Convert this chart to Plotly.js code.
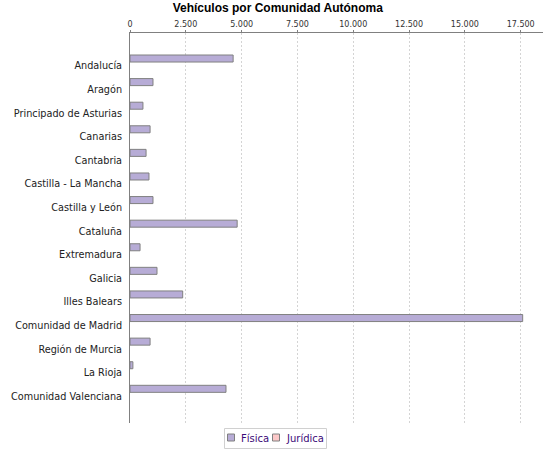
<!DOCTYPE html>
<html>
<head>
<meta charset="utf-8">
<script src="https://cdn.plot.ly/plotly-3.0.1.min.js"></script>
<style>html,body{margin:0;padding:0;background:#fff;}#chart{width:550px;height:450px;}</style>
</head>
<body>
<div id="chart"></div>
<script>
const categories = ["Andalucía","Aragón","Principado de Asturias","Canarias","Cantabria","Castilla - La Mancha","Castilla y León","Cataluña","Extremadura","Galicia","Illes Balears","Comunidad de Madrid","Región de Murcia","La Rioja","Comunidad Valenciana"];
const fisica = [4620, 1030, 580, 900, 720, 850, 1030, 4800, 450, 1210, 2360, 17590, 900, 130, 4300];
const juridica = [0, 0, 0, 0, 0, 0, 0, 0, 0, 0, 0, 0, 0, 0, 0];
const xTicks = [0, 2500, 5000, 7500, 10000, 12500, 15000, 17500];
const seriesNames = ["Física", "Jurídica"];
const seriesColors = ["#b7acd6", "#fcc8c8"];

const W = 550, H = 450;
const M = {l:130, r:7, t:33, b:27};
const PW = W - M.l - M.r, PH = H - M.t - M.b;
const px = x => (x - M.l) / PW;
const py = y => (H - M.b - y) / PH;

const traces = [fisica, juridica].map((vals, i) => ({
  type:'bar', orientation:'h', name:seriesNames[i], y:categories, x:vals,
  marker:{color:seriesColors[i], line:{color:'#808080', width: i === 0 ? 1 : 0}}, hoverinfo:'x+y'
}));

// custom legend (box, swatches, labels)
const shapes = [
  {type:'rect', xref:'paper', yref:'paper', x0:px(224.5), x1:px(326.5), y0:py(428.5), y1:py(448.5),
   line:{color:'#d0d0d0', width:1}, fillcolor:'#fff', layer:'above'}
];
const annotations = [];
const swatchX = [227.5, 272.5];
const textX = [238.5, 284];
seriesNames.forEach((n, i) => {
  shapes.push({type:'rect', xref:'paper', yref:'paper', x0:px(swatchX[i]), x1:px(swatchX[i]+7), y0:py(434), y1:py(441),
    line:{color:'#808080', width:1}, fillcolor:seriesColors[i], layer:'above'});
  annotations.push({xref:'paper', yref:'paper', x:px(textX[i]), y:py(438), xanchor:'left', yanchor:'middle',
    text:n, showarrow:false, font:{family:'DejaVu Sans, sans-serif', size:10, color:'#3c0a78'}});
});

const layout = {
  width:W, height:H,
  paper_bgcolor:'#fff', plot_bgcolor:'#fff',
  separators:',.',
  margin:{l:M.l, r:M.r, t:M.t, b:M.b, pad:0, autoexpand:false},
  title:{text:'<b>Vehículos por Comunidad Autónoma</b>', x:0.505, xref:'container', y:0.982, yref:'container', yanchor:'middle',
         font:{family:'Liberation Sans, Arial, sans-serif', size:12, color:'#000'}},
  barmode:'group', bargap:0.405, bargroupgap:0,
  xaxis:{side:'top', range:[0,18500], tickvals:xTicks, tickformat:',d',
         showgrid:true, gridcolor:'#d4d4d4', griddash:'2px,2px', gridwidth:1,
         showline:true, linecolor:'#808080', linewidth:1, zeroline:false,
         ticks:'outside', ticklen:2, tickcolor:'#808080',
         tickfont:{family:'DejaVu Sans, sans-serif', size:8, color:'#333'}, fixedrange:true},
  yaxis:{type:'category', categoryorder:'array', categoryarray:categories,
         range:[15.30, -1.23], showgrid:false, showline:true, linecolor:'#808080', linewidth:1,
         zeroline:false, ticks:'', ticklabelstandoff:5, ticklabelshift:-4,
         tickfont:{family:'DejaVu Sans, sans-serif', size:9.7, color:'#222'}, fixedrange:true},
  showlegend:false,
  shapes:shapes,
  annotations:annotations
};

Plotly.newPlot('chart', traces, layout, {displayModeBar:false, staticPlot:true});
</script>
</body>
</html>
